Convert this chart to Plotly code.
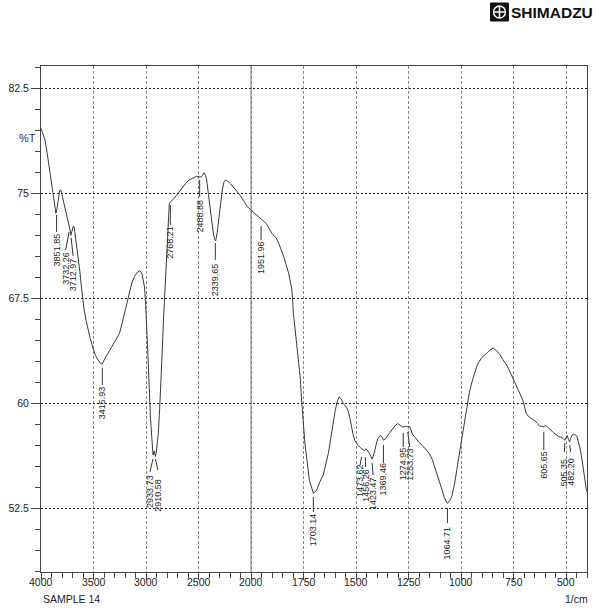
import plotly.graph_objects as go

# ---------------- data ----------------
wavenumber = [4000, 3985, 3962, 3940, 3915, 3900, 3883, 3870, 3858, 3848, 3835, 3822, 3811, 3800, 3788,
              3770, 3747, 3731, 3724, 3716, 3705, 3692, 3684, 3675, 3660, 3646, 3630, 3615, 3600, 3589,
              3570, 3551, 3530, 3504, 3480, 3456, 3435, 3419, 3400, 3380, 3362, 3330, 3299, 3275, 3252,
              3228, 3205, 3185, 3163, 3135, 3110, 3085, 3062, 3048, 3037, 3025, 3014, 3003, 2992, 2977,
              2958, 2942, 2933, 2922, 2910, 2900, 2892, 2883, 2870, 2857, 2845, 2832, 2820, 2810, 2800,
              2794, 2785, 2778, 2768, 2750, 2731, 2710, 2684, 2660, 2636, 2612, 2589, 2565, 2542, 2520,
              2495, 2472, 2460, 2447, 2435, 2422, 2405, 2384, 2370, 2358, 2345, 2336, 2322, 2305, 2290,
              2273, 2258, 2242, 2220, 2194, 2160, 2131, 2100, 2068, 2035, 2000, 1975, 1955, 1947, 1935,
              1923, 1900, 1880, 1868, 1845, 1821, 1805, 1798, 1785, 1775, 1766, 1758, 1743, 1722, 1710,
              1703, 1687, 1672, 1656, 1645, 1632, 1620, 1609, 1600, 1590, 1580, 1570, 1561, 1550, 1538,
              1530, 1522, 1514, 1506, 1490, 1475, 1466, 1459, 1452, 1445, 1435, 1423, 1418, 1412, 1405,
              1397, 1385, 1376, 1368, 1358, 1349, 1338, 1326, 1314, 1302, 1295, 1287, 1276, 1266, 1256,
              1245, 1238, 1232, 1215, 1200, 1185, 1169, 1150, 1137, 1114, 1100, 1090, 1080, 1066, 1058,
              1051, 1043, 1030, 1020, 1008, 996, 985, 973, 960, 949, 937, 925, 912, 902, 888,
              878, 862, 847, 830, 815, 800, 784, 768, 753, 740, 729, 716, 706, 698, 690,
              678, 666, 655, 643, 635, 627, 616, 606, 598, 591, 582, 572, 560, 548, 537,
              525, 515, 506, 500, 494, 488, 483, 478, 470, 462, 455, 447, 440, 431, 423,
              415, 408, 402]
transmittance = [79.64, 79.3, 78.8, 77.8, 76.54, 75.7, 74.76, 74.0, 73.57, 73.9, 74.8, 75.2, 75.24, 74.9, 74.52,
                 74.0, 73.3, 72.6, 72.4, 72.0, 72.3, 72.65, 72.6, 72.1, 71.3, 70.47, 69.4, 68.3, 67.3, 66.66,
                 65.9, 65.24, 64.6, 63.93, 63.4, 63.09, 62.85, 62.8, 63.1, 63.35, 63.57, 64.0, 64.4, 64.7, 65.0,
                 65.7, 66.43, 67.2, 67.86, 68.6, 69.05, 69.35, 69.45, 69.4, 69.2, 68.8, 68.3, 67.0, 65.43, 62.6,
                 59.0, 56.7, 56.3, 56.6, 56.2, 56.6, 57.2, 57.86, 59.6, 61.4, 63.8, 66.19, 68.1, 69.76, 71.5,
                 72.6, 73.6, 74.27, 74.38, 74.5, 74.64, 74.85, 75.11, 75.35, 75.59, 75.8, 75.95, 76.05, 76.14, 76.2,
                 76.18, 76.16, 76.3, 76.47, 76.3, 75.95, 74.9, 73.55, 72.7, 72.1, 71.7, 71.6, 72.2, 73.1, 74.2,
                 75.24, 75.8, 75.95, 75.85, 75.66, 75.4, 75.11, 74.8, 74.4, 74.05, 73.8, 73.5, 73.2, 73.1, 72.95,
                 72.74, 72.13, 71.8, 71.43, 70.5, 69.3, 68.1, 66.43, 64.5, 63.0, 61.9, 60.0, 57.1, 54.5, 53.8,
                 53.57, 53.8, 54.4, 54.88, 55.5, 56.4, 57.5, 58.6, 59.4, 60.1, 60.46, 60.3, 59.99, 59.8, 59.5,
                 59.0, 58.3, 57.8, 57.36, 57.0, 56.76, 56.7, 56.6, 56.75, 56.6, 56.4, 56.0, 56.2, 56.5, 57.0,
                 57.46, 57.7, 57.6, 57.36, 57.5, 57.7, 57.95, 58.2, 58.4, 58.55, 58.5, 58.4, 58.3, 58.35, 58.33,
                 58.35, 58.1, 57.8, 57.5, 57.2, 57.0, 56.76, 56.4, 56.0, 55.0, 54.3, 53.8, 53.3, 52.86, 52.95,
                 53.1, 53.4, 54.3, 55.26, 56.4, 57.64, 58.6, 59.79, 60.8, 61.45, 62.1, 62.64, 63.0, 63.24, 63.45,
                 63.55, 63.8, 63.95, 63.75, 63.48, 63.1, 62.76, 62.3, 61.81, 61.4, 60.95, 60.6, 60.24, 59.8, 59.29,
                 59.05, 58.93, 58.8, 58.69, 58.55, 58.38, 58.35, 58.33, 58.4, 58.35, 58.2, 58.1, 57.9, 57.74, 57.65,
                 57.57, 57.5, 57.36, 57.6, 57.7, 57.4, 57.24, 57.5, 57.75, 57.8, 57.75, 57.6, 57.2, 56.64, 55.9,
                 54.98, 54.3, 53.7]

x_tick_values = [4000, 3500, 3000, 2500, 2000, 1750, 1500, 1250, 1000, 750, 500]
y_tick_values = [52.5, 60, 67.5, 75, 82.5]

peak_labels = ["3851.85", "3732.26", "3712.97", "3415.93", "2933.73", "2910.58", "2768.21",
               "2488.88", "2339.65", "1951.96", "1703.14", "1473.62", "1456.26", "1423.47",
               "1369.46", "1274.95", "1253.73", "1064.71", "605.65", "505.35", "482.20"]

# label layout (positions): line top / line bottom / text centre (in %T), text x shift (px)
lab_line_top = [73.45, 72.24, 71.81, 62.52, 56.02, 56.02, 74.16, 75.95, 71.45, 72.66, 53.31,
                56.16, 56.16, 55.74, 57.02, 57.88, 57.95, 52.52, 57.95, 57.16, 57.02]
lab_line_bot = [72.24, 70.95, 70.52, 61.31, 55.09, 55.24, 72.74, 74.74, 70.24, 71.66, 52.24,
                55.59, 55.45, 54.88, 55.74, 56.88, 56.88, 51.45, 56.66, 56.52, 56.52]
lab_text_mid = [70.96, 69.66, 69.16, 60.02, 53.74, 53.45, 71.49, 73.38, 68.81, 70.38, 50.95,
                54.45, 54.16, 53.52, 54.59, 55.66, 55.66, 50.02, 55.59, 55.09, 55.09]
lab_dx = [0, -3.5, 2, 0, -3, 2.5, 0, 0, 0, 0, 0, -1.5, 0.5, 1, 0, 0, 2, 0, 0, -0.5, 1]

# ---------------- axis transform (Shimadzu scale change at 2000) ----------------
def u(wn):
    return (4000 - wn) / 500 if wn >= 2000 else 4 + (2000 - wn) / 250

W, H = 596, 609
ML, MR, MT, MB = 39, 8, 66, 37
PW = W - ML - MR
PH = H - MT - MB
PX_PER_U = PW / 10.4

NARROW = "Liberation Sans Narrow, Arial Narrow, Liberation Sans, Arial, sans-serif"
SANS = "Liberation Sans, Arial, sans-serif"

fig = go.Figure()
fig.add_trace(go.Scatter(x=[u(w) for w in wavenumber], y=transmittance, mode="lines",
                         line=dict(color="#3a3a3a", width=1), hoverinfo="skip", showlegend=False))

shapes = []
annotations = []

# solid line at 2000
shapes.append(dict(type="line", xref="x", yref="paper", x0=u(2000), x1=u(2000), y0=0, y1=1,
                   line=dict(color="#777777", width=1)))

for i, lab in enumerate(peak_labels):
    wn = float(lab)
    xu = u(wn)
    xt = xu + lab_dx[i] / PX_PER_U
    shapes.append(dict(type="line", xref="x", yref="y", x0=xu, x1=xt,
                       y0=lab_line_top[i], y1=lab_line_bot[i],
                       line=dict(color="#333333", width=1)))
    annotations.append(dict(x=xt, y=lab_text_mid[i], xref="x", yref="y", text=lab,
                            showarrow=False, textangle=-90, xanchor="center", yanchor="middle",
                            font=dict(family=SANS, size=9, color="#222222")))

def px2paper(px, py):
    return (px - ML) / PW, (H - MB - py) / PH

# x tick labels (placed close under the axis like the instrument print-out)
_, ty = px2paper(0, 582)
for v in x_tick_values:
    annotations.append(dict(x=u(v), y=ty, xref="x", yref="paper", text=str(v), showarrow=False,
                            xanchor="center", yanchor="middle",
                            font=dict(family=NARROW, size=10.5, color="#222222")))

# texts
x0, y0 = px2paper(25, 138)
annotations.append(dict(x=x0, y=y0, xref="paper", yref="paper", text="%T", showarrow=False,
                        xanchor="center", yanchor="middle",
                        font=dict(family=NARROW, size=11, color="#2a2a66")))
x0, y0 = px2paper(39, 599)
annotations.append(dict(x=x0, y=y0, xref="paper", yref="paper", text="SAMPLE 14", showarrow=False,
                        xanchor="left", yanchor="middle",
                        font=dict(family=NARROW, size=10.5, color="#222222")))
x0, y0 = px2paper(591, 599)
annotations.append(dict(x=x0, y=y0, xref="paper", yref="paper", text="1/cm", showarrow=False,
                        xanchor="right", yanchor="middle",
                        font=dict(family=NARROW, size=10.5, color="#222222")))

# logo
bx0, by0 = px2paper(491, 3)
bx1, by1 = px2paper(509, 21)
shapes.append(dict(type="rect", xref="paper", yref="paper", x0=bx0, x1=bx1, y0=by1, y1=by0,
                   fillcolor="#111111", line=dict(color="#111111", width=1)))
cx0, cy0 = px2paper(494, 6)
cx1, cy1 = px2paper(506, 18)
shapes.append(dict(type="circle", xref="paper", yref="paper", x0=cx0, x1=cx1, y0=cy1, y1=cy0,
                   line=dict(color="white", width=1.5)))
hx0, hy = px2paper(494, 12)
hx1, _ = px2paper(506, 12)
shapes.append(dict(type="line", xref="paper", yref="paper", x0=hx0, x1=hx1, y0=hy, y1=hy,
                   line=dict(color="white", width=1.5)))
vx, vy0 = px2paper(500, 6)
_, vy1 = px2paper(500, 18)
shapes.append(dict(type="line", xref="paper", yref="paper", x0=vx, x1=vx, y0=vy0, y1=vy1,
                   line=dict(color="white", width=1.5)))
lx, ly = px2paper(510, 12.5)
annotations.append(dict(x=lx, y=ly, xref="paper", yref="paper", text="<b>SHIMADZU</b>",
                        showarrow=False, xanchor="left", yanchor="middle",
                        font=dict(family=SANS, size=15.5, color="#111111")))

fig.update_layout(
    width=W, height=H,
    margin=dict(l=ML, r=MR, t=MT, b=MB, pad=0),
    paper_bgcolor="white", plot_bgcolor="white",
    shapes=shapes, annotations=annotations,
    showlegend=False,
    xaxis=dict(range=[0, 10.4], tickmode="array",
               tickvals=[u(v) for v in x_tick_values], ticktext=[str(v) for v in x_tick_values],
               showticklabels=False,
               ticks="outside", ticklen=7, tickcolor="#444444",
               showgrid=True, gridcolor="#888888", gridwidth=1, griddash="3px,2px",
               showline=True, linecolor="#444444", linewidth=1, mirror=True, zeroline=False,
               minor=dict(tickmode="linear", tick0=0, dtick=0.2, ticks="outside", ticklen=5,
                          tickcolor="#444444", showgrid=False)),
    yaxis=dict(range=[47.95, 84.09], tickmode="array", tickvals=y_tick_values,
               ticktext=[("%g" % v) for v in y_tick_values],
               ticks="outside", ticklen=9, tickcolor="#444444",
               tickfont=dict(family=NARROW, size=10.5, color="#222222"),
               showgrid=True, gridcolor="#222222", gridwidth=1, griddash="2px,2px",
               showline=True, linecolor="#444444", linewidth=1, mirror=True, zeroline=False,
               minor=dict(tickmode="linear", tick0=52.5, dtick=1.5, ticks="outside", ticklen=5,
                          tickcolor="#444444", showgrid=False)),
)

fig.write_html("out.html")
